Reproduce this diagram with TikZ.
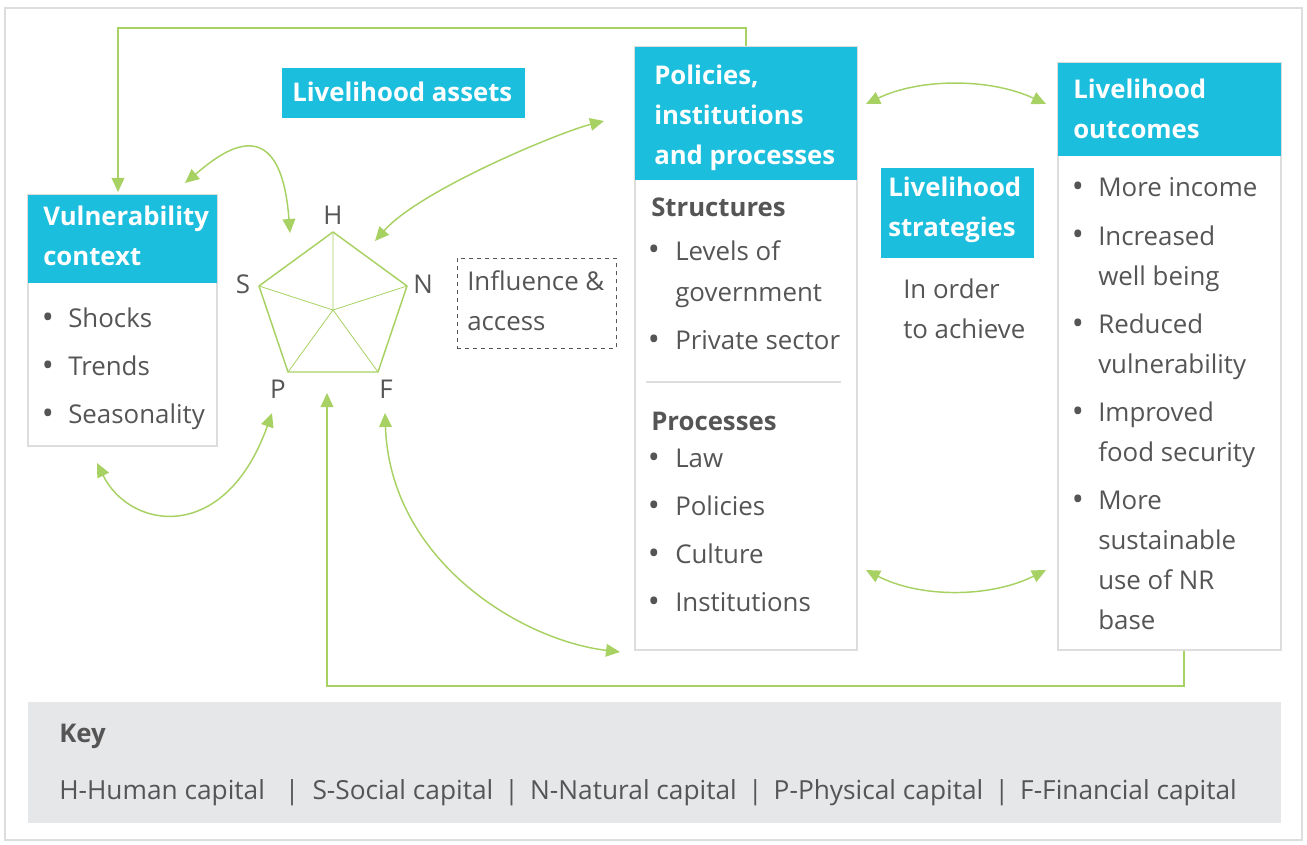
\documentclass[tikz,border=0pt]{standalone}
\usepackage{fontspec}
\setmainfont{Open Sans}
\usetikzlibrary{arrows.meta,fit}
\definecolor{cy}{HTML}{1CBEDE}
\definecolor{gr}{HTML}{A8D163}
\definecolor{tx}{HTML}{555555}
\definecolor{keybg}{HTML}{E6E7E9}
\definecolor{bd}{HTML}{DDDDDD}
\begin{document}
\begin{tikzpicture}[x=0.75pt,y=-0.75pt,
  txt/.style={text=tx, font=\fontsize{19.4}{24}\selectfont, inner sep=0, anchor=base west},
  bul/.style={text=tx, font=\fontsize{24}{24}\selectfont, inner sep=0, anchor=base},
  hd/.style={text=white, font=\fontsize{19.3}{24}\selectfont\bfseries, inner sep=0, anchor=base west},
  sub/.style={text=tx, font=\fontsize{19.3}{24}\selectfont\bfseries, inner sep=0, anchor=base west},
  box/.style={draw=bd, fill=white, inner sep=0, line width=0.8pt},
  head/.style={fill=cy, inner sep=0},
  lbl/.style={text=tx, font=\fontsize{19.4}{24}\selectfont, inner sep=0, anchor=center},
  arr/.style={draw=gr, line width=1.1pt, {Triangle[length=10.5pt,width=9.5pt]}-{Triangle[length=10.5pt,width=9.5pt]}},
  one/.style={draw=gr, line width=1.1pt, -{Triangle[length=10.5pt,width=9.5pt]}},
  pent/.style={draw=gr, line width=1.1pt, line join=round},
  spoke/.style={draw=gr, line width=0.6pt}
]
\useasboundingbox (0,0) rectangle (1307,845);
\fill[white] (0,0) rectangle (1307,845);
\draw[bd, line width=0.8pt] (5,8) rectangle (1302,840);

% Vulnerability context
\node[box, fit={(28,195)(217,446)}] (vc) {};
\node[head, fit={(28,195)(217,283)}] (vch) {};
\node[hd] (vct1) at (43,226) {Vulnerability};
\node[hd] (vct2) at (43,266) {context};
\node[bul] (vb1) at (48,328) {•};
\node[txt] (vi1) at (68,327) {Shocks};
\node[bul] (vb2) at (48,376) {•};
\node[txt] (vi2) at (68,375) {Trends};
\node[bul] (vb3) at (48,424) {•};
\node[txt] (vi3) at (68,423) {Seasonality};

% Livelihood assets
\node[head, fit={(282,68)(525,118)}] (la) {};
\node[hd] (lat) at (292,102) {Livelihood assets};

% Pentagon
\coordinate (pH) at (333,232);
\coordinate (pS) at (259,286);
\coordinate (pN) at (407,286);
\coordinate (pP) at (288,372);
\coordinate (pF) at (378,372);
\coordinate (pC) at (333,310);
\draw[spoke] (pC) -- (pH) (pC) -- (pS) (pC) -- (pN) (pC) -- (pP) (pC) -- (pF);
\draw[pent] (pH) -- (pN) -- (pF) -- (pP) -- (pS) -- cycle;
\node[lbl] (lH) at (333,215) {H};
\node[lbl] (lS) at (243,284) {S};
\node[lbl] (lN) at (423,284) {N};
\node[lbl] (lP) at (278,389) {P};
\node[lbl] (lF) at (386,389) {F};

% Influence & access
\node[draw=tx, dashed, line width=0.6pt, inner sep=0, fit={(457,258)(616,348)}] (ia) {};
\node[txt] (ia1) at (467,291) {Influence \&};
\node[txt] (ia2) at (467,330) {access};

% Policies, institutions and processes
\node[box, fit={(635,47)(857,650)}] (pip) {};
\node[head, fit={(635,47)(857,180)}] (piph) {};
\node[hd] (pt1) at (654,85) {Policies,};
\node[hd] (pt2) at (654,125) {institutions};
\node[hd] (pt3) at (654,165) {and processes};
\node[sub] (ps1) at (651,217) {Structures};
\node[bul] (pb1) at (654,261) {•};
\node[txt] (pi1) at (675,260) {Levels of};
\node[txt] (pi1b) at (675,301) {government};
\node[bul] (pb2) at (654,350) {•};
\node[txt] (pi2) at (675,349) {Private sector};
\draw[bd, line width=0.8pt] (646,382) -- (841,382);
\node[sub] (ps2) at (651,430) {Processes};
\node[bul] (pb3) at (654,468) {•};
\node[txt] (pi3) at (675,467) {Law};
\node[bul] (pb4) at (654,516) {•};
\node[txt] (pi4) at (675,515) {Policies};
\node[bul] (pb5) at (654,564) {•};
\node[txt] (pi5) at (675,563) {Culture};
\node[bul] (pb6) at (654,612) {•};
\node[txt] (pi6) at (675,611) {Institutions};

% Livelihood strategies
\node[head, fit={(881,168)(1034,258)}] (ls) {};
\node[hd] (ls1) at (888,197) {Livelihood};
\node[hd] (ls2) at (888,237) {strategies};
\node[txt] (io1) at (903,298) {In order};
\node[txt] (io2) at (903,338) {to achieve};

% Livelihood outcomes
\node[box, fit={(1058,63)(1281,650)}] (lo) {};
\node[head, fit={(1058,63)(1281,156)}] (loh) {};
\node[hd] (lo1) at (1073,99) {Livelihood};
\node[hd] (lo2) at (1073,139) {outcomes};
\node[bul] (ob1) at (1078,198) {•};
\node[txt] (oi1) at (1098,197) {More income};
\node[bul] (ob2) at (1078,246) {•};
\node[txt] (oi2) at (1098,245) {Increased};
\node[txt] (oi2b) at (1098,285) {well being};
\node[bul] (ob3) at (1078,334) {•};
\node[txt] (oi3) at (1098,333) {Reduced};
\node[txt] (oi3b) at (1098,373) {vulnerability};
\node[bul] (ob4) at (1078,422) {•};
\node[txt] (oi4) at (1098,421) {Improved};
\node[txt] (oi4b) at (1098,461) {food security};
\node[bul] (ob5) at (1078,510) {•};
\node[txt] (oi5) at (1098,509) {More};
\node[txt] (oi5b) at (1098,549) {sustainable};
\node[txt] (oi5c) at (1098,589) {use of NR};
\node[txt] (oi5d) at (1098,629) {base};

% Key
\node[fill=keybg, inner sep=0, fit={(28,702)(1281,823)}] (key) {};
\node[sub] (keyt) at (59,742) {Key};
\node[txt, font=\fontsize{19.7}{24}\selectfont] (keyl) at (59,799) {H-Human capital \enspace|\enspace S-Social capital \,|\, N-Natural capital \,|\, P-Physical capital \,|\, F-Financial capital};

% Connectors
\coordinate (topA) at (746,28);
\coordinate (topB) at (118,28);
\coordinate (vcin) at (118,192);
\draw[one] (pip.north -| topA) -- (topA) -- (topB) -- (vcin);

\coordinate (botA) at (1184,686);
\coordinate (botB) at (327,686);
\coordinate (pin) at (327,393);
\draw[one] (lo.south -| botA) -- (botA) -- (botB) -- (pin);

\coordinate (a1s) at (866,104);
\coordinate (a1e) at (1046,104);
\draw[arr] (a1s) .. controls (920,78) and (990,78) .. (a1e);
\coordinate (a2s) at (866,570);
\coordinate (a2e) at (1046,570);
\draw[arr] (a2s) .. controls (920,598) and (990,598) .. (a2e);

\coordinate (a3s) at (185,183);
\coordinate (a3e) at (290,233);
\draw[arr] (a3s) .. controls (215,158) and (280,100) .. (a3e);

\coordinate (a4s) at (604,121);
\coordinate (a4e) at (375,241);
\draw[arr] (a4s) .. controls (560,132) and (420,190) .. (a4e);

\coordinate (a5s) at (97,463);
\coordinate (a5e) at (272,413);
\draw[arr] (a5s) .. controls (130,530) and (225,545) .. (a5e);

\coordinate (a6s) at (385,413);
\coordinate (a6e) at (620,652);
\draw[arr] (a6s) .. controls (390,560) and (520,640) .. (a6e);
\end{tikzpicture}
\end{document}
